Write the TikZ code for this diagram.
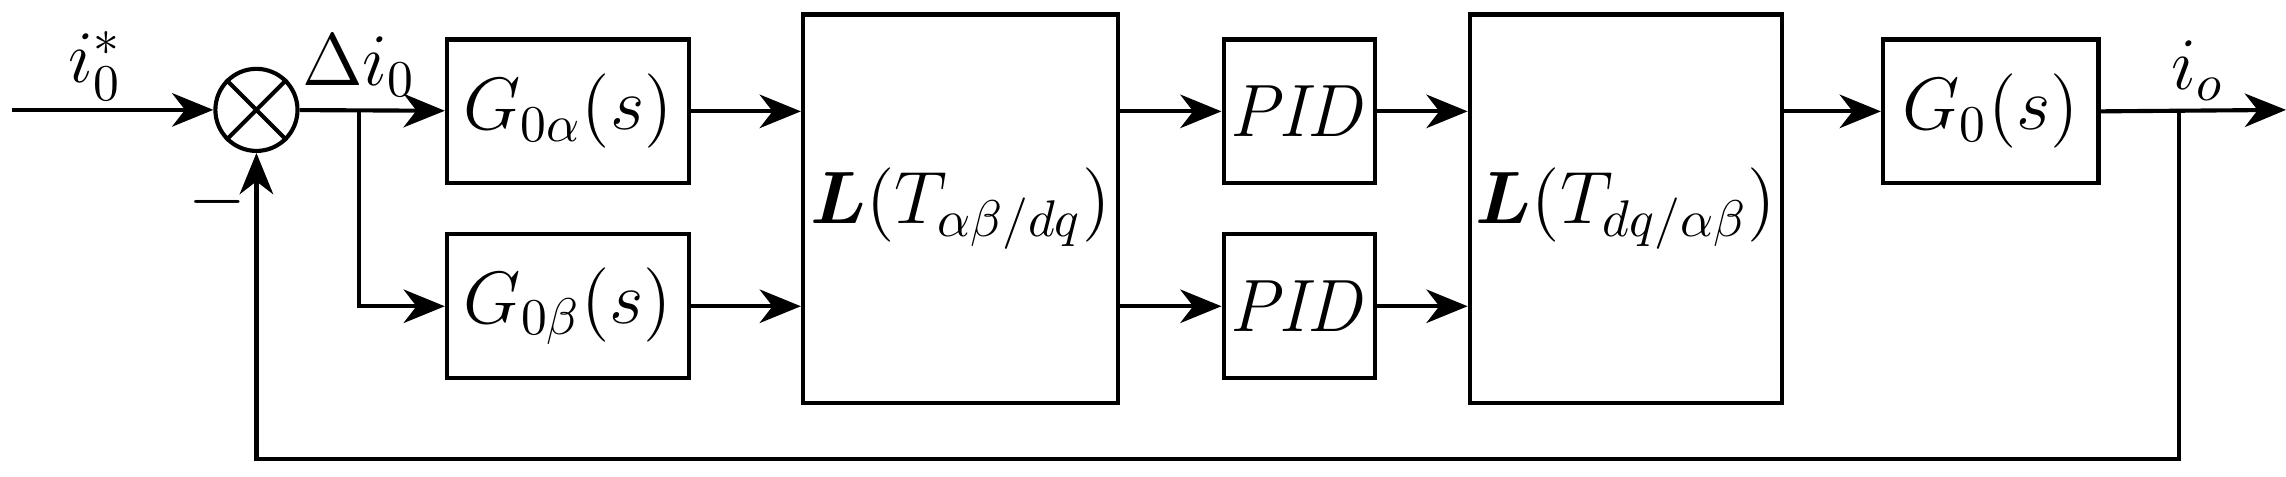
\documentclass[tikz,border=0pt]{standalone}
\usepackage{bm}
\usetikzlibrary{arrows.meta}
\begin{document}
\begin{tikzpicture}[
      x=0.01cm, y=-0.01cm,
      block/.style={draw, thick, inner sep=0pt},
      sig/.style={thick, -{Stealth[length=8pt,width=6.5pt,inset=2.5pt]}},
      lbl/.style={font=\fontsize{14}{17}\selectfont}
    ]
    \useasboundingbox (0,0) rectangle (1560,325);
    % summing junction
    \node[draw, thick, circle, minimum size=0.56cm] (sum) at (175,75) {};
    \draw[thick] (sum.north west) -- (sum.south east) (sum.north east) -- (sum.south west);
    % blocks
    \node[block, minimum width=1.65cm, minimum height=0.98cm, lbl] (ga) at (387.5,76) {$G_{0\alpha}(s)$};
    \node[block, minimum width=1.65cm, minimum height=0.98cm, lbl] (gb) at (387.5,209) {$G_{0\beta}(s)$};
    \node[block, minimum width=2.15cm, minimum height=2.65cm, lbl] (la) at (655.5,142.5) {$\bm{L}(T_{\alpha\beta/dq})$};
    \node[block, minimum width=1.03cm, minimum height=0.98cm, lbl] (pa) at (886.5,76) {$\mathit{PID}$};
    \node[block, minimum width=1.03cm, minimum height=0.98cm, lbl] (pb) at (886.5,209) {$\mathit{PID}$};
    \node[block, minimum width=2.13cm, minimum height=2.65cm, lbl] (lb) at (1109.5,142.5) {$\bm{L}(T_{dq/\alpha\beta})$};
    \node[block, minimum width=1.47cm, minimum height=0.98cm, lbl] (g0) at (1358.5,76) {$G_0(s)$};
    % coordinates
    \coordinate (in) at (8,75);
    \coordinate (br) at (245,75);
    \coordinate (out) at (1560,75);
    \coordinate (fb) at (1487,75);
    \coordinate (fbl) at (1487,313);
    \coordinate (fbr) at (175,313);
    % connections
    \draw[sig] (in) -- (sum);
    \draw[sig] (sum) -- (ga);
    \draw[sig] (br) |- (gb);
    \draw[sig] (ga.east) -- (ga.east -| la.west);
    \draw[sig] (gb.east) -- (gb.east -| la.west);
    \draw[sig] (pa.west -| la.east) -- (pa.west);
    \draw[sig] (pb.west -| la.east) -- (pb.west);
    \draw[sig] (pa.east) -- (pa.east -| lb.west);
    \draw[sig] (pb.east) -- (pb.east -| lb.west);
    \draw[sig] (g0.west -| lb.east) -- (g0.west);
    \draw[sig] (g0.east) -- (out);
    \draw[sig] (fb) -- (fbl) -- (fbr) -- (sum);
    % labels
    \node[lbl] (ref) at (65,45) {$i_0^*$};
    \node[lbl] (err) at (245,45) {$\Delta i_0$};
    \node[lbl] (neg) at (148,138) {$-$};
    \node[lbl] (io) at (1500,48) {$i_o$};
\end{tikzpicture}
\end{document}
